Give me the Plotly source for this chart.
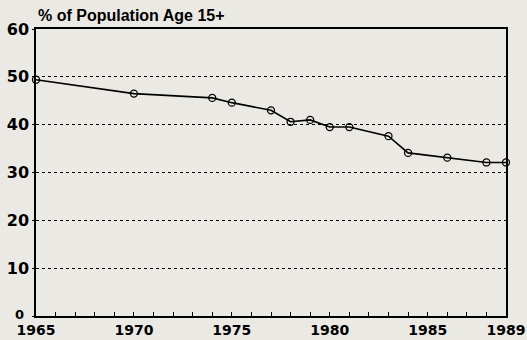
import plotly.graph_objects as go

# Share of the population aged 15+ (percent), by year
years = [1965, 1970, 1974, 1975, 1977, 1978, 1979, 1980, 1981, 1983, 1984, 1986, 1988, 1989]
share = [49.4, 46.5, 45.6, 44.6, 43.0, 40.6, 41.0, 39.5, 39.5, 37.6, 34.1, 33.1, 32.1, 32.1]

x_ticks = [1965, 1970, 1975, 1980, 1985, 1989]
y_ticks = [0, 10, 20, 30, 40, 50, 60]

bg = "#ebe9e3"
font_family = "Liberation Sans, Arial, sans-serif"
tick_family = "DejaVu Sans, sans-serif"

fig = go.Figure()
fig.add_trace(go.Scatter(
    x=years, y=share,
    mode="lines+markers",
    line=dict(color="black", width=1.6),
    marker=dict(symbol="circle-open", size=7, color="black", line=dict(width=1.3)),
    cliponaxis=False,
    showlegend=False,
))

# the origin label is set smaller and tucked into the corner, apart from the others
y_text = ["" if v == y_ticks[0] else str(v) for v in y_ticks]

fig.update_layout(
    width=527, height=340,
    margin=dict(l=36, r=21, t=29, b=24),
    paper_bgcolor=bg, plot_bgcolor=bg,
    font=dict(family=font_family, color="black"),
    xaxis=dict(
        range=[1965, 1989],
        automargin=False,
        tickvals=x_ticks, ticktext=[str(v) for v in x_ticks],
        tickfont=dict(size=14, weight="bold", family=tick_family),
        ticklabelstandoff=0,
        ticks="inside", ticklen=4, tickcolor="black",
        minor=dict(tick0=1965, dtick=1, ticks="inside", ticklen=4, tickcolor="black"),
        showgrid=False, zeroline=False,
        showline=True, linecolor="black", linewidth=1.5, mirror=True,
    ),
    yaxis=dict(
        range=[0, 60],
        automargin=False,
        tickvals=y_ticks, ticktext=y_text,
        tickfont=dict(size=16, weight="bold", family=tick_family),
        ticks="outside", ticklen=2, tickcolor="black",
        showgrid=True, gridcolor="black", griddash="dot", gridwidth=1,
        zeroline=False,
        showline=True, linecolor="black", linewidth=1.5, mirror=True,
    ),
    annotations=[
        dict(
            text="% of Population Age 15+",
            xref="paper", yref="paper", x=0, y=1, yshift=3,
            xanchor="left", yanchor="bottom", showarrow=False,
            font=dict(size=16, weight="bold", family=font_family),
        ),
        dict(
            text=str(y_ticks[0]),
            xref="paper", yref="y", x=0, y=y_ticks[0], xshift=-10, yshift=2,
            xanchor="right", yanchor="middle", showarrow=False,
            font=dict(size=13, weight="bold", family=tick_family),
        ),
    ],
)

fig.write_html("out.html")
